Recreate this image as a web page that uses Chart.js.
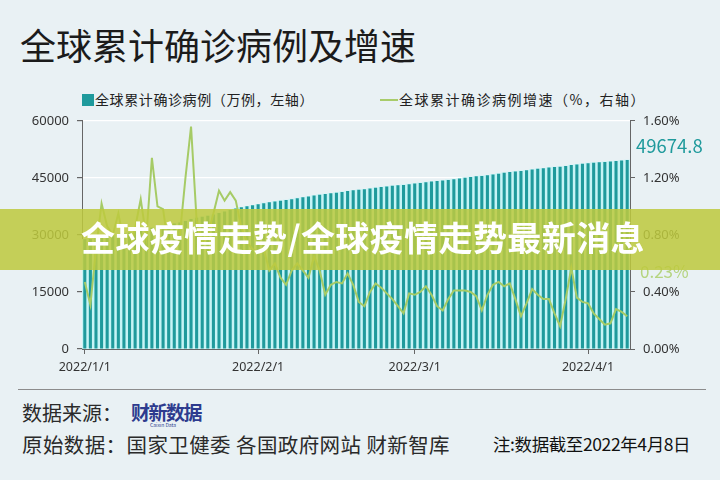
<!DOCTYPE html>
<html>
<head>
<meta charset="utf-8">
<script src="https://cdn.jsdelivr.net/npm/chart.js@4/dist/chart.umd.min.js"></script>
<style>
  body { margin: 0; background: #e9f1f4; }
  #wrap { position: relative; width: 720px; height: 480px; overflow: hidden; background: #e9f1f4;
          font-family: "Noto Sans CJK SC", "Noto Sans", sans-serif; }
  #title { position: absolute; left: 20px; top: 18px; font-size: 36px; color: #1b1b1b; }
  #legend { position: absolute; left: 82px; top: 89px; font-size: 14px; color: #222; white-space: nowrap; letter-spacing: 0.6px; }
  #legend span.sq { display: inline-block; width: 12px; height: 12px; background: #1f9a9c; vertical-align: -1px; margin-right: 1px; }
  #legend span.ln { display: inline-block; width: 18px; height: 2px; background: #a8cc6a; vertical-align: 4px; margin-left: 66px; margin-right: 1px; }
  #legend span.t2 { letter-spacing: 1.5px; }
  #cv { position: absolute; left: 0; top: 105px; }
  .note { position: absolute; white-space: nowrap; }
  #band { position: absolute; left: 0; top: 209px; width: 720px; height: 61px; background: rgba(190, 201, 62, 0.86); }
  #bandtxt { position: absolute; left: 81px; top: 212px; font-size: 34px; font-weight: bold; color: #fff; letter-spacing: 0.4px; }
  #rule { position: absolute; left: 18px; top: 389px; width: 688px; height: 1px; background: #8c8c8c; }
</style>
</head>
<body>
<div id="wrap">
  <div id="title">全球累计确诊病例及增速</div>
  <div id="legend"><span class="sq"></span>全球累计确诊病例（万例，左轴）<span class="ln"></span><span class="t2">全球累计确诊病例增速（%，右轴）</span></div>
  <canvas id="cv" width="720" height="282"></canvas>
  <div class="note" style="left:636px;top:132px;font-size:18.5px;color:#1f9a9c;">49674.8</div>
  <div class="note" style="left:640px;top:258px;font-size:17px;color:#b5d47f;">0.23%</div>
  <div id="band"></div>
  <div id="bandtxt">全球疫情走势/全球疫情走势最新消息</div>
  <div id="rule"></div>
  <div class="note" style="left:22px;top:398px;font-size:20px;color:#2a2a2a;">数据来源：</div>
  <div class="note" style="left:131px;top:398px;font-size:19px;font-weight:bold;color:#2d3b8e;letter-spacing:-1.5px;">财新数据</div>
  <div class="note" style="left:150px;top:421px;font-size:5px;color:#2d3b8e;">Caixin Data</div>
  <div class="note" style="left:22px;top:429px;font-size:20.5px;color:#2a2a2a;letter-spacing:0.4px;">原始数据：国家卫健委 各国政府网站 财新智库</div>
  <div class="note" style="left:493px;top:431px;font-size:17.5px;color:#111;letter-spacing:-0.4px;">注:数据截至2022年4月8日</div>
</div>
<script>
// 日期: 2022/1/1 ~ 2022/4/8
var days = [];
var monthLen = [31, 28, 31, 8];
for (var m = 0; m < 4; m++) {
    for (var d = 1; d <= monthLen[m]; d++) days.push('2022/' + (m + 1) + '/' + d);
}

// 全球累计确诊病例（万例）
var cases = [
    28850, 28940, 29140, 29440, 29690, 29930, 30210, 30440, 30650, 30910,
    31230, 31460, 31880, 32200, 32520, 32750, 32990, 33250, 33650, 34170,
    34480, 34750, 35030, 35370, 35770, 36140, 36550, 36940, 37250, 37540,
    37800, 38070, 38350, 38560, 38800, 39000, 39180, 39400, 39650, 39870,
    40080, 40350, 40570, 40730, 40920, 41110, 41310, 41540, 41730, 41880,
    42000, 42180, 42380, 42570, 42740, 42900, 43030, 43150, 43330, 43490,
    43670, 43870, 44040, 44180, 44310, 44460, 44650, 44840, 45020, 45210,
    45390, 45510, 45690, 45900, 46110, 46320, 46530, 46700, 46820, 46970,
    47180, 47370, 47530, 47700, 47830, 47910, 48090, 48370, 48540, 48710,
    48870, 48990, 49100, 49190, 49280, 49430, 49550, 49674.8
];

// 增速（%）
var growth = [
    0.47, 0.31, 0.70, 1.02, 0.86, 0.80, 0.95, 0.75, 0.70, 0.85,
    1.05, 0.78, 1.34, 1.00, 0.98, 0.70, 0.72, 0.80, 1.20, 1.56,
    0.90, 0.75, 0.80, 0.95, 1.11, 1.04, 1.10, 1.04, 0.85, 0.75,
    0.70, 0.68, 0.70, 0.55, 0.60, 0.50, 0.45, 0.55, 0.60, 0.55,
    0.50, 0.65, 0.55, 0.38, 0.45, 0.47, 0.46, 0.53, 0.45, 0.33,
    0.30, 0.40, 0.46, 0.43, 0.39, 0.35, 0.30, 0.25, 0.39, 0.38,
    0.40, 0.44, 0.38, 0.30, 0.27, 0.35, 0.41, 0.41, 0.41, 0.40,
    0.37, 0.27, 0.38, 0.45, 0.47, 0.44, 0.46, 0.35, 0.23, 0.32,
    0.42, 0.38, 0.35, 0.35, 0.25, 0.16, 0.35, 0.57, 0.36, 0.33,
    0.32, 0.25, 0.21, 0.17, 0.18, 0.28, 0.26, 0.23
];

var leftTicks = [0, 15000, 30000, 45000, 60000];
var rightTicks = [0, 0.4, 0.8, 1.2, 1.6];

function isMonthStart(i) { return /\/1$/.test(days[i]); }

var ctx = document.getElementById('cv').getContext('2d');
var chart = new Chart(ctx, {
    type: 'bar',
    data: {
        labels: days,
        datasets: [
            {
                type: 'line',
                data: growth,
                yAxisID: 'y2',
                borderColor: '#a6cb66',
                borderWidth: 2,
                pointRadius: 0,
                tension: 0,
                order: 0
            },
            {
                data: cases,
                yAxisID: 'y',
                backgroundColor: '#1f9a9c',
                barPercentage: 0.55,
                categoryPercentage: 1,
                grouped: false,
                order: 1
            },
            {
                data: cases,
                yAxisID: 'y',
                backgroundColor: '#c6f4f6',
                barPercentage: 1,
                categoryPercentage: 1,
                grouped: false,
                order: 2
            }
        ]
    },
    options: {
        responsive: false,
        animation: false,
        layout: { padding: { top: 9, left: 0, right: 0, bottom: 0 } },
        plugins: { legend: { display: false }, tooltip: { enabled: false } },
        scales: {
            x: {
                afterFit: function (s) { s.height = 38; },
                ticks: {
                    autoSkip: false,
                    maxRotation: 0,
                    color: '#333',
                    font: { size: 12.5, family: 'Noto Sans' },
                    padding: 6,
                    callback: function (v, i) { return isMonthStart(i) ? days[i] : ''; }
                },
                grid: {
                    offset: false,
                    drawOnChartArea: false,
                    tickLength: 5,
                    color: function (c) { return isMonthStart(c.index) ? '#666' : 'rgba(0,0,0,0)'; }
                },
                border: { color: '#666' }
            },
            y: {
                position: 'left',
                min: 0, max: 60000,
                afterFit: function (s) { s.width = 82; },
                afterBuildTicks: function (s) { s.ticks = leftTicks.map(function (v) { return { value: v }; }); },
                ticks: {
                    color: '#333', font: { size: 13, family: 'Noto Sans' }, padding: 8,
                    callback: function (v) { return String(v); }
                },
                grid: { color: '#ffffff', lineWidth: 1.2, tickLength: 5, tickColor: '#666' },
                border: { color: '#666' }
            },
            y2: {
                position: 'right',
                min: 0, max: 1.6,
                afterFit: function (s) { s.width = 90; },
                afterBuildTicks: function (s) { s.ticks = rightTicks.map(function (v) { return { value: v }; }); },
                ticks: {
                    color: '#333', font: { size: 13, family: 'Noto Sans' }, padding: 8,
                    callback: function (v) { return v.toFixed(2) + '%'; }
                },
                grid: { drawOnChartArea: false, tickLength: 5, color: '#666' },
                border: { color: '#666' }
            }
        }
    }
});
</script>
</body>
</html>
